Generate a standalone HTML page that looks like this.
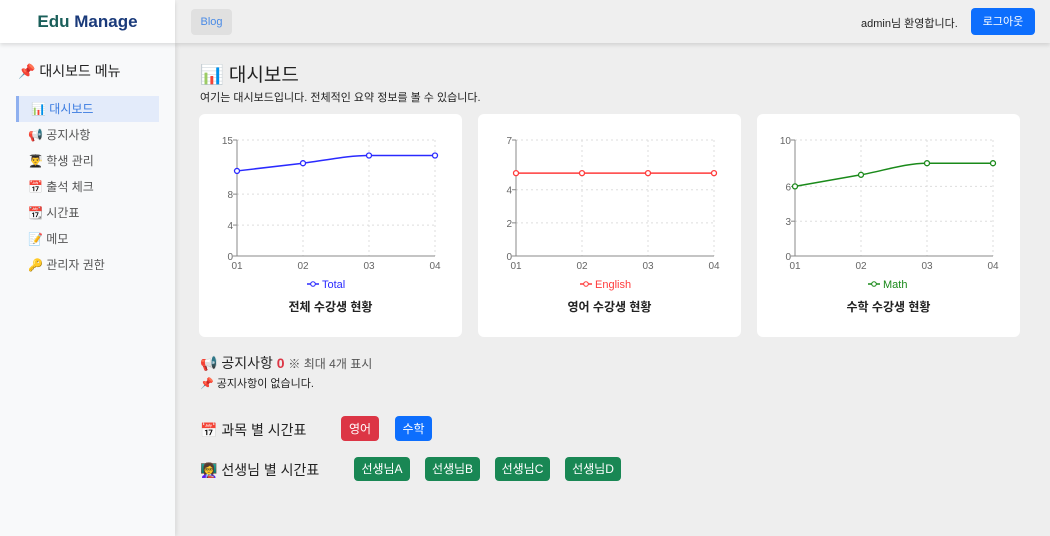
<!DOCTYPE html>
<html><head><meta charset="utf-8"><style>
*{box-sizing:border-box;margin:0;padding:0}
body{width:1050px;height:536px;overflow:hidden;background:#eeeeee;font-family:"Liberation Sans","Noto Sans CJK KR",sans-serif;position:relative;color:#222}
.abs{position:absolute}
#logo{left:0;top:0;width:175px;height:43px;background:#fff;box-shadow:0 2px 4px rgba(0,0,0,.12);text-align:center;line-height:43px;font-weight:bold;font-size:17px;color:#1a3a7a;z-index:2}
#topbar{left:175px;top:0;width:875px;height:43px;background:#efefef;box-shadow:0 2px 4px rgba(0,0,0,.12);z-index:1}
#sidebar{left:0;top:43px;width:175px;height:493px;background:#f8f9fa;box-shadow:2px 0 4px rgba(0,0,0,.08)}
.menu{position:absolute;left:16px;width:143px;height:26px;font-size:12px;color:#555;line-height:27px;padding-left:12px}
.menu.active{background:#e3ebfa;color:#3a7be0;border-left:3px solid #8fb0ef}
.btn{position:absolute;border-radius:4px;color:#fff;font-size:12px;text-align:center}
.card{position:absolute;top:114px;width:263px;height:223px;background:#fff;border-radius:6px}
.ctitle{position:absolute;top:184px;width:100%;text-align:center;font-size:12px;font-weight:bold}
</style></head><body>
<div id="logo" class="abs"><span style="color:#1a5f5a">Edu</span> Manage</div>
<div id="topbar" class="abs">
 <div class="abs" style="left:16px;top:9px;width:41px;height:26px;background:#e0e0e0;border-radius:4px;color:#4a8be6;font-size:11px;line-height:27px;text-align:center">Blog</div>
 <div class="abs" style="left:686px;top:15px;font-size:11px">admin님 환영합니다.</div>
 <div class="btn" style="left:796px;top:8px;width:64px;height:27px;background:#0d6efd;line-height:28px;font-size:11px">로그아웃</div>
</div>
<div id="sidebar" class="abs">
 <div class="abs" style="left:18px;top:18px;font-size:14px">📌 대시보드 메뉴</div>
 <div class="menu active" style="top:53px">📊 대시보드</div>
 <div class="menu" style="top:79px">📢 공지사항</div>
 <div class="menu" style="top:105px">👨‍🎓 학생 관리</div>
 <div class="menu" style="top:131px">📅 출석 체크</div>
 <div class="menu" style="top:157px">📆 시간표</div>
 <div class="menu" style="top:183px">📝 메모</div>
 <div class="menu" style="top:209px">🔑 관리자 권한</div>
</div>
<div class="abs" style="left:200px;top:60px;font-size:19px">📊 대시보드</div>
<div class="abs" style="left:200px;top:89px;font-size:11px">여기는 대시보드입니다. 전체적인 요약 정보를 볼 수 있습니다.</div>

<div class="card" style="left:199px"><svg id="c0" width="263" height="223"></svg><div class="ctitle">전체 수강생 현황</div></div>
<div class="card" style="left:478px"><svg id="c1" width="263" height="223"></svg><div class="ctitle">영어 수강생 현황</div></div>
<div class="card" style="left:757px"><svg id="c2" width="263" height="223"></svg><div class="ctitle">수학 수강생 현황</div></div>

<div class="abs" style="left:200px;top:353px;font-size:14px">📢 공지사항 <b style="color:#dc3545">0</b> <span style="font-size:12px;color:#555">※ 최대 4개 표시</span></div>
<div class="abs" style="left:200px;top:375px;font-size:11px">📌 공지사항이 없습니다.</div>
<div class="abs" style="left:200px;top:420px;font-size:14px">📅 과목 별 시간표</div>
<div class="btn" style="left:341px;top:416px;width:38px;height:25px;line-height:26px;background:#dc3545">영어</div>
<div class="btn" style="left:395px;top:416px;width:37px;height:25px;line-height:26px;background:#0d6efd">수학</div>
<div class="abs" style="left:200px;top:460px;font-size:14px">👩‍🏫 선생님 별 시간표</div>
<div class="btn" style="left:354px;top:457px;width:56px;height:24px;line-height:25px;background:#198754">선생님A</div>
<div class="btn" style="left:425px;top:457px;width:55px;height:24px;line-height:25px;background:#198754">선생님B</div>
<div class="btn" style="left:495px;top:457px;width:55px;height:24px;line-height:25px;background:#198754">선생님C</div>
<div class="btn" style="left:565px;top:457px;width:56px;height:24px;line-height:25px;background:#198754">선생님D</div>
<script>
const categories=["01","02","03","04"];
const totalValues=[11,12,13,13];
const englishValues=[5,5,5,5];
const mathValues=[6,7,8,8];
const totalTicks=[0,4,8,15];
const englishTicks=[0,2,4,7];
const mathTicks=[0,3,6,10];
const charts=[
 {id:"c0",vals:totalValues,ticks:totalTicks,max:15,color:"#2a2aff",name:"Total"},
 {id:"c1",vals:englishValues,ticks:englishTicks,max:7,color:"#ff3b3b",name:"English"},
 {id:"c2",vals:mathValues,ticks:mathTicks,max:10,color:"#1a8a1a",name:"Math"}];
const NS="http://www.w3.org/2000/svg";
function mk(svg,t,a){const e=document.createElementNS(NS,t);for(const k in a)e.setAttribute(k,a[k]);svg.appendChild(e);return e;}
charts.forEach(c=>{
 const svg=document.getElementById(c.id);
 const L=38,R=236,T=26,B=142;
 const x=i=>L+i*(R-L)/(categories.length-1);
 const y=v=>B-v/c.max*(B-T);
 c.ticks.forEach(t=>{
  const g=mk(svg,"line",{x1:L,x2:R,y1:y(t),y2:y(t),stroke:"#ddd","stroke-dasharray":"2 3"});
  
  mk(svg,"line",{x1:L-4,x2:L,y1:y(t),y2:y(t),stroke:"#888"});
  const tx=mk(svg,"text",{x:L-4,y:y(t)+4,"text-anchor":"end","font-size":10,fill:"#666"});tx.textContent=t;
  
 });
 categories.forEach((cat,i)=>{
  if(i>0)mk(svg,"line",{x1:x(i),x2:x(i),y1:T,y2:B,stroke:"#ddd","stroke-dasharray":"2 3"});
  const tx=mk(svg,"text",{x:x(i),y:B+13,"text-anchor":"middle","font-size":10,fill:"#666"});tx.textContent=cat;
  
 });
 mk(svg,"line",{x1:L,x2:L,y1:T,y2:B,stroke:"#888"});
 mk(svg,"line",{x1:L,x2:R,y1:B,y2:B,stroke:"#888"});
 const P=c.vals.map((v,i)=>[x(i),y(v)]),n=P.length;
 const d=[],m=[];
 for(let i=0;i<n-1;i++)d.push((P[i+1][1]-P[i][1])/(P[i+1][0]-P[i][0]));
 for(let i=0;i<n;i++){if(i==0)m.push(d[0]);else if(i==n-1)m.push(d[n-2]);else m.push(d[i-1]*d[i]<=0?0:(d[i-1]+d[i])/2);}
 let s="M"+P[0];
 for(let i=0;i<n-1;i++){const h=(P[i+1][0]-P[i][0])/3;s+=" C"+(P[i][0]+h)+","+(P[i][1]+m[i]*h)+" "+(P[i+1][0]-h)+","+(P[i+1][1]-m[i+1]*h)+" "+P[i+1];}
 const ln=mk(svg,"path",{d:s,fill:"none",stroke:c.color,"stroke-width":1.5});
 
 P.forEach(p=>{const pt=mk(svg,"circle",{cx:p[0],cy:p[1],r:2.5,fill:"#fff",stroke:c.color,"stroke-width":1.3});
  });
 const lg=mk(svg,"g",{});
 const lx=137-c.name.length*3;
 mk(lg,"line",{x1:lx-14,x2:lx-2,y1:170,y2:170,stroke:c.color,"stroke-width":1.5});
 mk(lg,"circle",{cx:lx-8,cy:170,r:2.3,fill:"#fff",stroke:c.color});
 const lt=mk(lg,"text",{x:lx+1,y:174,"font-size":11,fill:c.color});lt.textContent=c.name;
});
</script>
</body></html>
